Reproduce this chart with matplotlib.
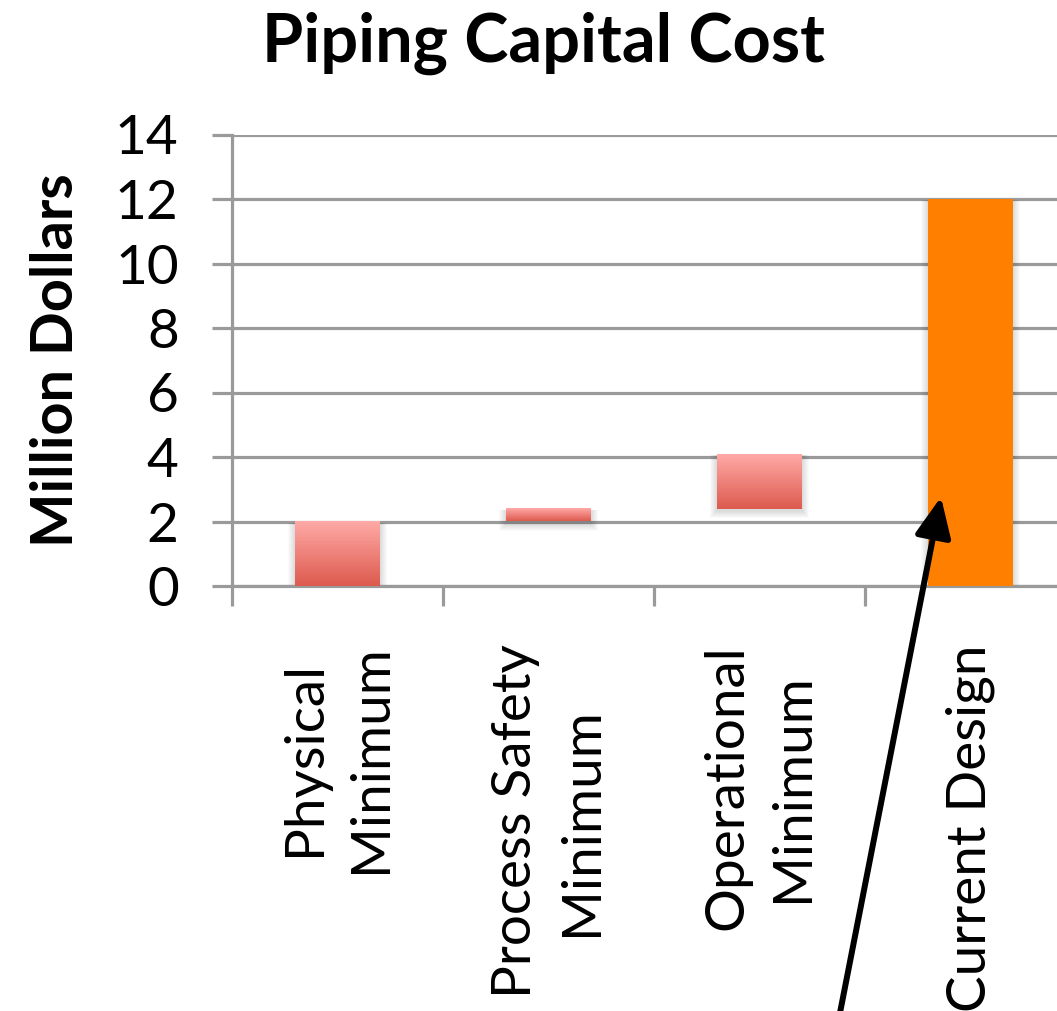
import numpy as np
import matplotlib
matplotlib.use("Agg")
import matplotlib.pyplot as plt
from matplotlib.patches import Rectangle
from matplotlib.colors import LinearSegmentedColormap

plt.rcParams['font.family'] = ['Lato', 'DejaVu Sans']

# Waterfall data (million dollars)
categories = ["Physical\nMinimum", "Process Safety\nMinimum", "Operational\nMinimum", "Current Design"]
bar_bottoms = [0.0, 2.0, 2.4, 0.0]
bar_tops = [2.0, 2.4, 4.1, 12.0]
y_ticks = [0, 2, 4, 6, 8, 10, 12, 14]

W, H = 1057, 1011
fig = plt.figure(figsize=(W / 100, H / 100), dpi=100)

# axes in pixel layout: x from 232 to 1076, y from 586 (0) to 134.5 (14)
left, right = 232, 1076
y0, y14 = 586, 134.5
ax = fig.add_axes([left / W, (H - y0) / H, (right - left) / W, (y0 - y14) / H])
ax.set_xlim(-0.5, 3.5)
ax.set_ylim(0, 14)

grid_c = '#9a9a9a'
ax.set_yticks(y_ticks)
ax.set_yticklabels([str(v) for v in y_ticks])
ax.yaxis.grid(True, color=grid_c, linewidth=2.3, zorder=0)
ax.set_axisbelow(True)
ax.tick_params(axis='y', length=14.4, width=2.3, color=grid_c, labelsize=39.5, pad=24)

ax.set_xticks(np.arange(len(categories)))
ax.set_xticklabels(categories, rotation=90, fontsize=39.5, va='top', ha='center',
                   multialignment='center', linespacing=1.42)
ax.tick_params(axis='x', which='major', length=0, pad=42)
ax.set_xticks(np.arange(-0.5, 4.0, 1.0), minor=True)
ax.tick_params(axis='x', which='minor', length=14.4, width=2.3, color=grid_c)

for s in ['top', 'right']:
    ax.spines[s].set_visible(False)
for s in ['left', 'bottom']:
    ax.spines[s].set_color(grid_c)
    ax.spines[s].set_linewidth(2.3)

px_x = 1.0 / 211.0
px_y = 1.0 / 32.25
bar_w = 85 * px_x

grad = LinearSegmentedColormap.from_list('pinkred', ['#dd5a4e', '#ffaaa7'])
gradient = np.linspace(0, 1, 256).reshape(-1, 1)

for i, (b, t) in enumerate(zip(bar_bottoms, bar_tops)):
    x0 = i - bar_w / 2
    # soft drop shadow
    for k in range(1, 8):
        ax.add_patch(Rectangle((x0 - k * px_x, b - (k + 2) * px_y),
                               bar_w + 2 * k * px_x, (t - b) + (k + 1) * px_y,
                               facecolor='#000000', edgecolor='none',
                               alpha=0.018, zorder=2))
    if i == len(categories) - 1:
        ax.add_patch(Rectangle((x0, b), bar_w, t - b, facecolor='#ff7f00',
                               edgecolor='none', zorder=3))
    else:
        ax.imshow(gradient, cmap=grad, origin='lower', aspect='auto',
                  extent=(x0, x0 + bar_w, b, t), zorder=3, interpolation='bilinear')

ax.set_xlim(-0.5, 3.5)
ax.set_ylim(0, 14)

fig.text(543 / W, (H - 62) / H, "Piping Capital Cost", fontsize=48, fontweight='bold',
         ha='center', va='baseline')
fig.text(57 / W, (H - 360) / H, "Million Dollars", fontsize=41.5, fontweight='bold',
         rotation=90, ha='center', va='center')

# arrow pointing at the current design bar
ax.annotate('', xy=(2.86, 2.76), xycoords='data',
            xytext=(838, -12), textcoords='figure pixels',
            arrowprops=dict(arrowstyle='-|>,head_length=1.1,head_width=0.5',
                            color='black', linewidth=4.3, mutation_scale=22,
                            shrinkA=0, shrinkB=0),
            annotation_clip=False, zorder=5)

fig.savefig('out.png', dpi=100)
